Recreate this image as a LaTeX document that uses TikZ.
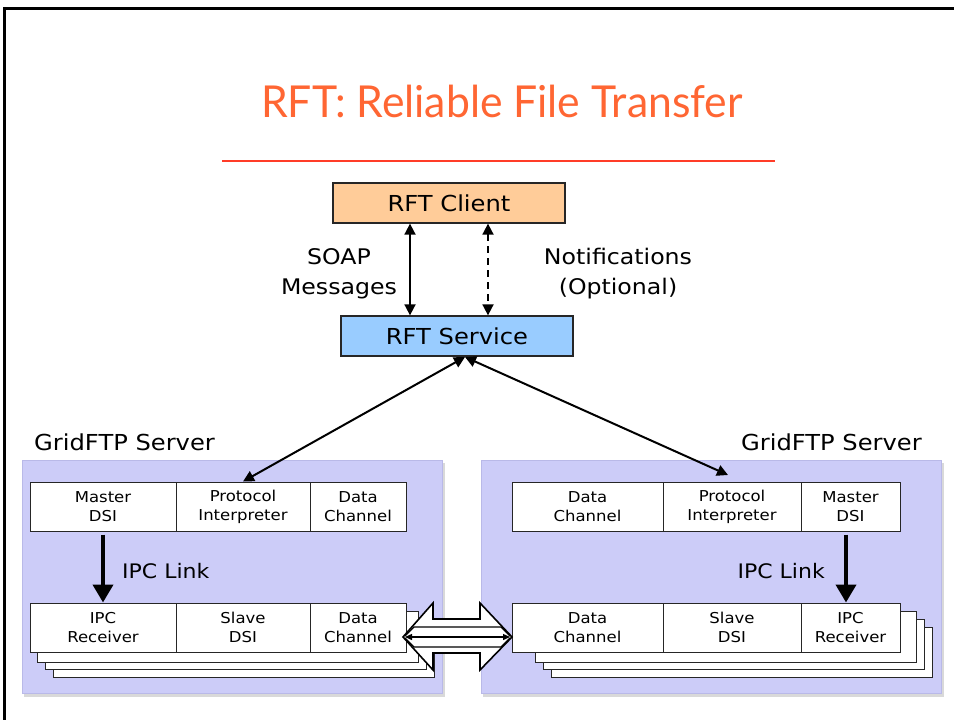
\documentclass[tikz,border=0pt]{standalone}
\usepackage{fontspec}
\setmainfont{DejaVu Sans}[FakeStretch=1.1]
\newfontfamily\titlefont{Lato}
\usetikzlibrary{arrows.meta,calc}
\definecolor{titleorange}{RGB}{255,102,51}
\definecolor{rulered}{RGB}{255,60,40}
\definecolor{clientfill}{RGB}{255,204,153}
\definecolor{servicefill}{RGB}{153,204,255}
\definecolor{panelfill}{RGB}{204,204,248}
\definecolor{paneledge}{RGB}{185,185,232}
\tikzset{
  topbox/.style={draw=black!85, line width=1.3pt, minimum width=232pt, minimum height=40pt, inner sep=0pt, font=\fontsize{22}{26}\selectfont},
  cell/.style={draw=black!85, fill=white, line width=1pt, minimum height=49pt, inner sep=0pt, align=center, font=\fontsize{15}{19}\selectfont},
  stackbox/.style={draw=black!85, fill=white, line width=1pt},
  panel/.style={fill=panelfill, draw=paneledge, line width=1pt},
  lbl/.style={font=\fontsize{21.5}{30}\selectfont, align=center, inner sep=0pt},
  dbl/.style={line width=1.8pt, {Triangle[width=11pt,length=11pt]}-{Triangle[width=11pt,length=11pt]}},
  ipc/.style={line width=4pt, -{Triangle[width=20pt,length=18pt]}},
}
\begin{document}
\begin{tikzpicture}[x=1pt,y=-1pt]
\useasboundingbox (0,0) rectangle (954,720);
\fill[white] (0,0) rectangle (954,720);
% frame
\draw[line width=3pt, black] (4.5,720) -- (4.5,8) -- (954,8);
% title
\node[text=titleorange, font=\titlefont\fontsize{44}{50}\selectfont, xscale=0.97, inner sep=0pt] (title) at (502,101) {RFT: Reliable File Transfer};
\coordinate (ruleL) at (222,161);
\coordinate (ruleR) at (775,161);
\draw[rulered, line width=2pt] (ruleL) -- (ruleR);
% top boxes
\node[topbox, fill=clientfill] (client) at (449,203) {RFT Client};
\node[topbox, fill=servicefill] (service) at (457,336) {RFT Service};
\coordinate (xs) at (410,0);
\coordinate (xd) at (488,0);
\draw[dbl] (client.south -| xs) -- (service.north -| xs);
\draw[dbl, dash pattern=on 7pt off 5pt] (client.south -| xd) -- (service.north -| xd);
\node[lbl] (soap) at (339,274) {SOAP\\Messages};
\node[lbl] (notif) at (618,274) {Notifications\\(Optional)};
% panels
\fill[black!15] (24,463) rectangle (445,697);
\fill[black!15] (483,463) rectangle (944,697);
\draw[panel] (22,460) rectangle (442,693);
\draw[panel] (481,460) rectangle (941,693);
\node[lbl, font=\fontsize{22}{26}\selectfont, anchor=west] (gl) at (34,442) {GridFTP Server};
\node[lbl, font=\fontsize{22}{26}\selectfont, anchor=east] (gr) at (922,442) {GridFTP Server};
% left stacks
\draw[stackbox] (53,627) rectangle (434,677);
\draw[stackbox] (45,619) rectangle (426,669);
\draw[stackbox] (37,611) rectangle (418,662);
% right stacks
\draw[stackbox] (551,627) rectangle (932,677);
\draw[stackbox] (543,619) rectangle (924,669);
\draw[stackbox] (535,611) rectangle (916,662);
% left cells
\node[cell, minimum width=146pt] (lmd) at (103,506.5) {Master\\DSI};
\node[cell, minimum width=134pt] (lpi) at (243,506.5) {Protocol\\Interpreter};
\node[cell, minimum width=96pt] (ldc) at (358,506.5) {Data\\Channel};
\node[cell, minimum width=146pt] (lipc) at (103,627.5) {IPC\\Receiver};
\node[cell, minimum width=134pt] (lsd) at (243,627.5) {Slave\\DSI};
\node[cell, minimum width=96pt] (ldc2) at (358,627.5) {Data\\Channel};
% right cells
\node[cell, minimum width=151pt] (rdc) at (587.5,506.5) {Data\\Channel};
\node[cell, minimum width=138pt] (rpi) at (732,506.5) {Protocol\\Interpreter};
\node[cell, minimum width=99pt] (rmd) at (850.5,506.5) {Master\\DSI};
\node[cell, minimum width=151pt] (rdc2) at (587.5,627.5) {Data\\Channel};
\node[cell, minimum width=138pt] (rsd) at (732,627.5) {Slave\\DSI};
\node[cell, minimum width=99pt] (ripc) at (850.5,627.5) {IPC\\Receiver};
% IPC links
\coordinate (xl) at (103,0);
\coordinate (xr) at (846,0);
\draw[ipc, shorten <=3pt] (lmd.south -| xl) -- (lipc.north -| xl);
\draw[ipc, shorten <=3pt] (rmd.south -| xr) -- (ripc.north -| xr);
\node[lbl, font=\fontsize{20}{24}\selectfont, anchor=west] (ipcl) at (122,571) {IPC Link};
\node[lbl, font=\fontsize{20}{24}\selectfont, anchor=east] (ipcr) at (825,571) {IPC Link};
% service to PIs
\coordinate (hub) at (465,357);
\coordinate (rpitop) at (728,475);
\draw[dbl, line width=2pt] (hub) -- (lpi.north);
\draw[dbl, line width=2pt] (hub) -- (rpitop);
% fat double arrow
\draw[fill=white, line width=1.6pt, line join=miter]
  (403,637) -- (433,603) -- (433,619) -- (480,619) -- (480,603) -- (512,637)
  -- (480,670) -- (480,653) -- (433,653) -- (433,670) -- cycle;
\draw[line width=1.3pt, {Triangle[width=6pt,length=7pt]}-{Triangle[width=6pt,length=7pt]}] (405,637) -- (510,637);
\draw[line width=1.3pt] (405,636) -- (414,627) -- (501,627) -- (510,636);
\draw[line width=1.3pt] (405,638) -- (414,647) -- (501,647) -- (510,638);
\end{tikzpicture}
\end{document}
